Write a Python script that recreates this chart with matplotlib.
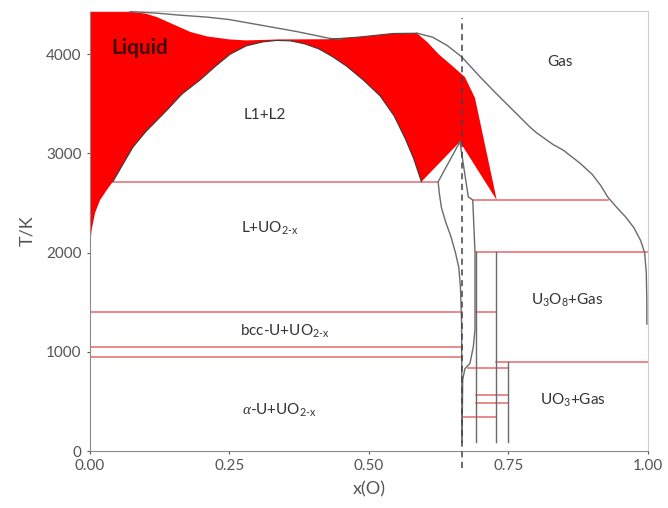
import matplotlib
matplotlib.use("Agg")
import matplotlib.pyplot as plt

plt.rcParams['font.family'] = ['Lato', 'DejaVu Sans']
plt.rcParams['mathtext.fontset'] = 'custom'
plt.rcParams['mathtext.rm'] = 'Lato'
plt.rcParams['mathtext.it'] = 'Liberation Serif:italic'

# ---- phase boundaries of the U-O system (x(O), T/K) ----
# upper edge of the liquid (boiling curve)
liq_top_x = [0.0, 0.0, 0.072, 0.10, 0.12, 0.15, 0.18, 0.21, 0.25, 0.28, 0.34, 0.43, 0.484, 0.543, 0.586]
liq_top_T = [4500, 4440, 4430, 4410, 4375, 4300, 4225, 4180, 4150, 4140, 4150, 4152, 4175, 4210, 4213]
# outer (oxygen-rich) edge of the liquid
liq_right_x = [0.586, 0.605, 0.625, 0.65, 0.672, 0.69, 0.729]
liq_right_T = [4213, 4120, 4000, 3880, 3770, 3560, 2530]
# liquidus around UO2 congruent melting point
liq_inner_x = [0.729, 0.663, 0.594]
liq_inner_T = [2530, 3118, 2715]
# L1+L2 miscibility gap
dome_x = [0.041, 0.06, 0.077, 0.10, 0.138, 0.165, 0.197, 0.225, 0.251, 0.28, 0.31, 0.335,
          0.36, 0.385, 0.41, 0.435, 0.46, 0.49, 0.52, 0.545, 0.565, 0.58, 0.594]
dome_T = [2715, 2900, 3064, 3220, 3437, 3600, 3740, 3880, 4000, 4085, 4125, 4140,
          4135, 4105, 4055, 3975, 3880, 3740, 3580, 3380, 3150, 2950, 2715]
# U-rich liquidus below the monotectic
low_liq_x = [0.0, 0.003, 0.009, 0.018, 0.03, 0.041]
low_liq_T = [2056, 2228, 2399, 2530, 2631, 2715]

# dew line of the gas phase
dew_x = [0.072, 0.12, 0.16, 0.21, 0.25, 0.31, 0.37, 0.40, 0.43, 0.45]
dew_T = [4430, 4415, 4395, 4375, 4350, 4290, 4230, 4195, 4160, 4152]
gas_x = [0.586, 0.614, 0.64, 0.666, 0.699, 0.728, 0.758, 0.788, 0.80, 0.83, 0.848, 0.878,
         0.90, 0.915, 0.928, 0.945, 0.96, 0.975, 0.987, 0.994, 0.997, 0.998, 0.998]
gas_T = [4213, 4173, 4090, 3975, 3773, 3605, 3437, 3269, 3210, 3090, 3034, 2903,
         2790, 2680, 2560, 2450, 2360, 2250, 2120, 2000, 1800, 1500, 1280]

# UO2-x and UO2+x single-phase boundaries
hypo_x = [0.663, 0.624, 0.626, 0.63, 0.638, 0.647, 0.655, 0.661, 0.664, 0.666, 0.6667]
hypo_T = [3118, 2715, 2600, 2450, 2300, 2160, 2000, 1850, 1650, 1300, 90]
hyper_x = [0.663, 0.678, 0.686, 0.69, 0.69, 0.687, 0.681, 0.672, 0.668, 0.6667]
hyper_T = [3118, 2563, 2530, 2006, 1220, 1051, 884, 830, 720, 90]

# invariant (horizontal) lines: temperature, x start, x end
inv_T = [2715, 1401, 1048, 948, 2530, 2006, 1401, 897, 837, 565, 484, 343]
inv_x0 = [0.041, 0.0, 0.0, 0.0, 0.686, 0.692, 0.692, 0.727, 0.678, 0.692, 0.692, 0.6667]
inv_x1 = [0.624, 0.666, 0.666, 0.666, 0.928, 1.0, 0.727, 1.0, 0.75, 0.75, 0.75, 0.727]

# line compounds U4O9, U3O8, UO3: x, T top, T bottom
cmp_x = [0.692, 0.727, 0.75]
cmp_Ttop = [2006, 2006, 897]
cmp_Tbot = [90, 90, 90]

x_ticks = [0.0, 0.25, 0.5, 0.75, 1.0]
x_ticklabels = ['0.00', '0.25', '0.50', '0.75', '1.00']
y_ticks = [0, 1000, 2000, 3000, 4000]

# ---- figure ----
fig = plt.figure(figsize=(6.68, 5.08), dpi=100)
ax = fig.add_axes([0.1347, 0.1122, 0.8353, 0.8668])
ax.set_xlim(0, 1)
ax.set_ylim(0, 4440)

grey = '#6a6a6a'
pink = '#e5686a'

# liquid region
poly_x = (liq_top_x + liq_right_x[1:] + liq_inner_x[1:] + dome_x[::-1][1:] + low_liq_x[::-1][1:])
poly_T = (liq_top_T + liq_right_T[1:] + liq_inner_T[1:] + dome_T[::-1][1:] + low_liq_T[::-1][1:])
ax.fill(poly_x, poly_T, color='#ff0000', lw=0, zorder=1)

# boundaries
ax.plot(dome_x, dome_T, color='#3a3a3a', lw=0.8, zorder=3)
ax.plot(dew_x, dew_T, color=grey, lw=1.0, zorder=3)
ax.plot(liq_top_x[-4:], liq_top_T[-4:], color='#4a4a4a', lw=0.8, zorder=3)
ax.plot(gas_x, gas_T, color=grey, lw=1.0, zorder=3)
ax.plot(hypo_x, hypo_T, color=grey, lw=1.0, zorder=3)
ax.plot(hyper_x, hyper_T, color=grey, lw=1.0, zorder=3)

for T, a, b in zip(inv_T, inv_x0, inv_x1):
    ax.plot([a, b], [T, T], color=pink, lw=1.1, zorder=2)

for xc, t0, t1 in zip(cmp_x, cmp_Ttop, cmp_Tbot):
    ax.plot([xc, xc], [t0, t1], color=grey, lw=1.0, zorder=3)

# UO2 stoichiometry
ax.plot([2 / 3, 2 / 3], [-170, 4370], color='#3c4250', lw=1.1,
        dashes=(4, 3), zorder=4, clip_on=False)

# region labels
lab = dict(fontsize=11, color='#333333', ha='center', va='center', zorder=5)
ax.text(0.09, 4062, 'Liquid', fontsize=15, fontweight='bold', color='#3d0a0a',
        ha='center', va='center', zorder=5)
ax.text(0.314, 3387, 'L1+L2', **lab)
ax.text(0.322, 2248, r'L+UO$_{\mathrm{2\text{-}x}}$', **lab)
ax.text(0.35, 1210, r'bcc-U+UO$_{\mathrm{2\text{-}x}}$', **lab)
ax.text(0.34, 413, r'$\alpha$-U+UO$_{\mathrm{2\text{-}x}}$', **lab)
ax.text(0.842, 3921, 'Gas', **lab)
ax.text(0.856, 1522, r'U$_{\mathrm{3}}$O$_{\mathrm{8}}$+Gas', **lab)
ax.text(0.865, 514, r'UO$_{\mathrm{3}}$+Gas', **lab)

# axes styling
ax.set_xticks(x_ticks)
ax.set_xticklabels(x_ticklabels)
ax.set_yticks(y_ticks)
ax.tick_params(labelsize=11, colors='#555555', length=2, pad=4)
for s in ('left', 'bottom'):
    ax.spines[s].set_color('#8a8a8a')
for s in ('top', 'right'):
    ax.spines[s].set_color('#cfcfcf')
ax.set_xlabel('x(O)', fontsize=13, color='#555555', labelpad=6)
ax.set_ylabel('T/K', fontsize=13, color='#555555', labelpad=8)

fig.savefig('out.png', dpi=100)
